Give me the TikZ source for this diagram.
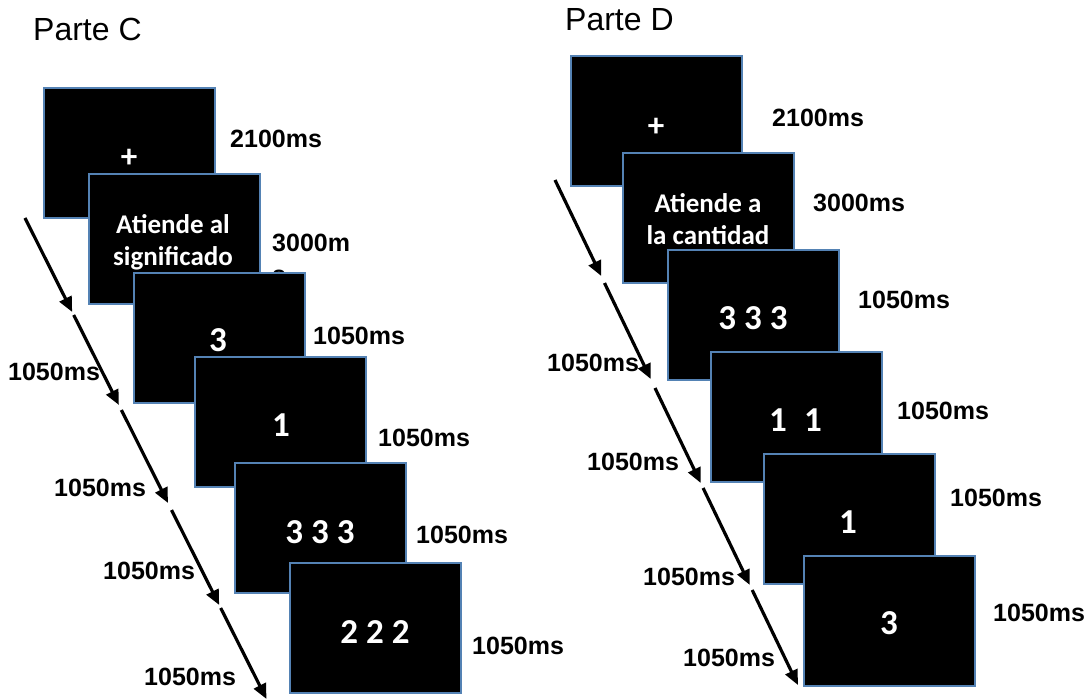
\documentclass[tikz,border=0pt]{standalone}
\usepackage{fontspec}
\setmainfont{Liberation Sans}
\newfontfamily\scrfont{Carlito}
\usetikzlibrary{arrows.meta}
\definecolor{scrblue}{RGB}{84,130,180}
\tikzset{
  screen/.style={draw=scrblue, line width=2pt, fill=black,
    minimum width=171pt, minimum height=130pt, inner sep=0pt, anchor=north west},
  scrtext/.style={text=white, inner sep=0pt, align=center,
    font=\scrfont\bfseries\fontsize{27}{32}\selectfont},
  scrnum/.style={text=white, inner sep=0pt,
    font=\scrfont\bfseries\fontsize{35}{40}\selectfont},
  dur/.style={inner sep=0pt, anchor=west, font=\bfseries\fontsize{25}{31.5}\selectfont},
  paneltitle/.style={inner sep=0pt, anchor=base west, font=\fontsize{32}{38}\selectfont},
  timeline/.style={line width=3.2pt, -{Triangle[length=15pt,width=13pt]}},
}
\begin{document}
\begin{tikzpicture}[x=1pt,y=-1pt]
\useasboundingbox (0,0) rectangle (1087,700);

% ---------------- Parte C ----------------
\node[paneltitle] (tC) at (33,41) {Parte C};

\node[screen] (c1) at (43,87) {};
\node[scrnum, font=\scrfont\bfseries\fontsize{33}{38}\selectfont] (c1t) at (129,158) {+};
\node[dur] (c1d) at (230,139) {2100ms};

\node[screen] (c2) at (88,173) {};
\node[scrtext] (c2t) at (173,242.5) {Atiende al\\significado};
\node[dur, align=left] (c2d) at (272,259) {3000m\\s};

\node[screen] (c3) at (133,272) {};
\node[scrnum] (c3t) at (218,340) {3};
\node[dur] (c3d) at (313,336) {1050ms};

\node[screen] (c4) at (194,356) {};
\node[scrnum] (c4t) at (281,425) {1};
\node[dur] (c4d) at (378,438) {1050ms};

\node[screen] (c5) at (234,462) {};
\node[scrnum] (c5t) at (320,532) {3 3 3};
\node[dur] (c5d) at (416,535) {1050ms};

\node[screen] (c6) at (289,562) {};
\node[scrnum] (c6t) at (375,632) {2 2 2};
\node[dur] (c6d) at (472,646) {1050ms};

% time line, Parte C
\coordinate (ca0) at (25,218);
\coordinate (ca1) at (72.2,312);
\coordinate (cb0) at (73.7,315);
\coordinate (cb1) at (118.9,405);
\coordinate (cc0) at (121.4,410);
\coordinate (cc1) at (168,503);
\coordinate (cd0) at (171.5,510);
\coordinate (cd1) at (219.2,605);
\coordinate (ce0) at (220.7,608);
\coordinate (ce1) at (266.5,699);
\draw[timeline] (ca0) -- (ca1);
\draw[timeline] (cb0) -- (cb1);
\draw[timeline] (cc0) -- (cc1);
\draw[timeline] (cd0) -- (cd1);
\draw[timeline] (ce0) -- (ce1);

\node[dur] (cl1) at (8,372) {1050ms};
\node[dur] (cl2) at (54,488) {1050ms};
\node[dur] (cl3) at (103,571) {1050ms};
\node[dur] (cl4) at (144,677) {1050ms};

% ---------------- Parte D ----------------
\node[paneltitle] (tD) at (565,31) {Parte D};

\node[screen] (d1) at (570,55) {};
\node[scrnum, font=\scrfont\bfseries\fontsize{33}{38}\selectfont] (d1t) at (656,127) {+};
\node[dur] (d1d) at (772,118) {2100ms};

\node[screen] (d2) at (622,152) {};
\node[scrtext] (d2t) at (708,219.5) {Atiende a\\la cantidad};
\node[dur] (d2d) at (813,203) {3000ms};

\node[screen] (d3) at (667,249) {};
\node[scrnum] (d3t) at (753,318) {3 3 3};
\node[dur] (d3d) at (858,300) {1050ms};

\node[screen] (d4) at (710,351) {};
\node[scrnum] (d4t) at (795.5,420) {1\hspace{0.49em}1};
\node[dur] (d4d) at (897,411) {1050ms};

\node[screen] (d5) at (763,453) {};
\node[scrnum] (d5t) at (848,522) {1};
\node[dur] (d5d) at (950,498) {1050ms};

\node[screen] (d6) at (803,555) {};
\node[scrnum] (d6t) at (889,623) {3};
\node[dur] (d6d) at (993,613) {1050ms};

% time line, Parte D
\coordinate (da0) at (555,180);
\coordinate (da1) at (601.2,276);
\coordinate (db0) at (604.5,283);
\coordinate (db1) at (650.7,379);
\coordinate (dc0) at (655,388);
\coordinate (dc1) at (700.7,483);
\coordinate (dd0) at (703.1,488);
\coordinate (dd1) at (749.8,585);
\coordinate (de0) at (752.2,590);
\coordinate (de1) at (797.9,685);
\draw[timeline] (da0) -- (da1);
\draw[timeline] (db0) -- (db1);
\draw[timeline] (dc0) -- (dc1);
\draw[timeline] (dd0) -- (dd1);
\draw[timeline] (de0) -- (de1);

\node[dur] (dl1) at (547,363) {1050ms};
\node[dur] (dl2) at (587,462) {1050ms};
\node[dur] (dl3) at (643,577) {1050ms};
\node[dur] (dl4) at (683,658) {1050ms};
\end{tikzpicture}
\end{document}
